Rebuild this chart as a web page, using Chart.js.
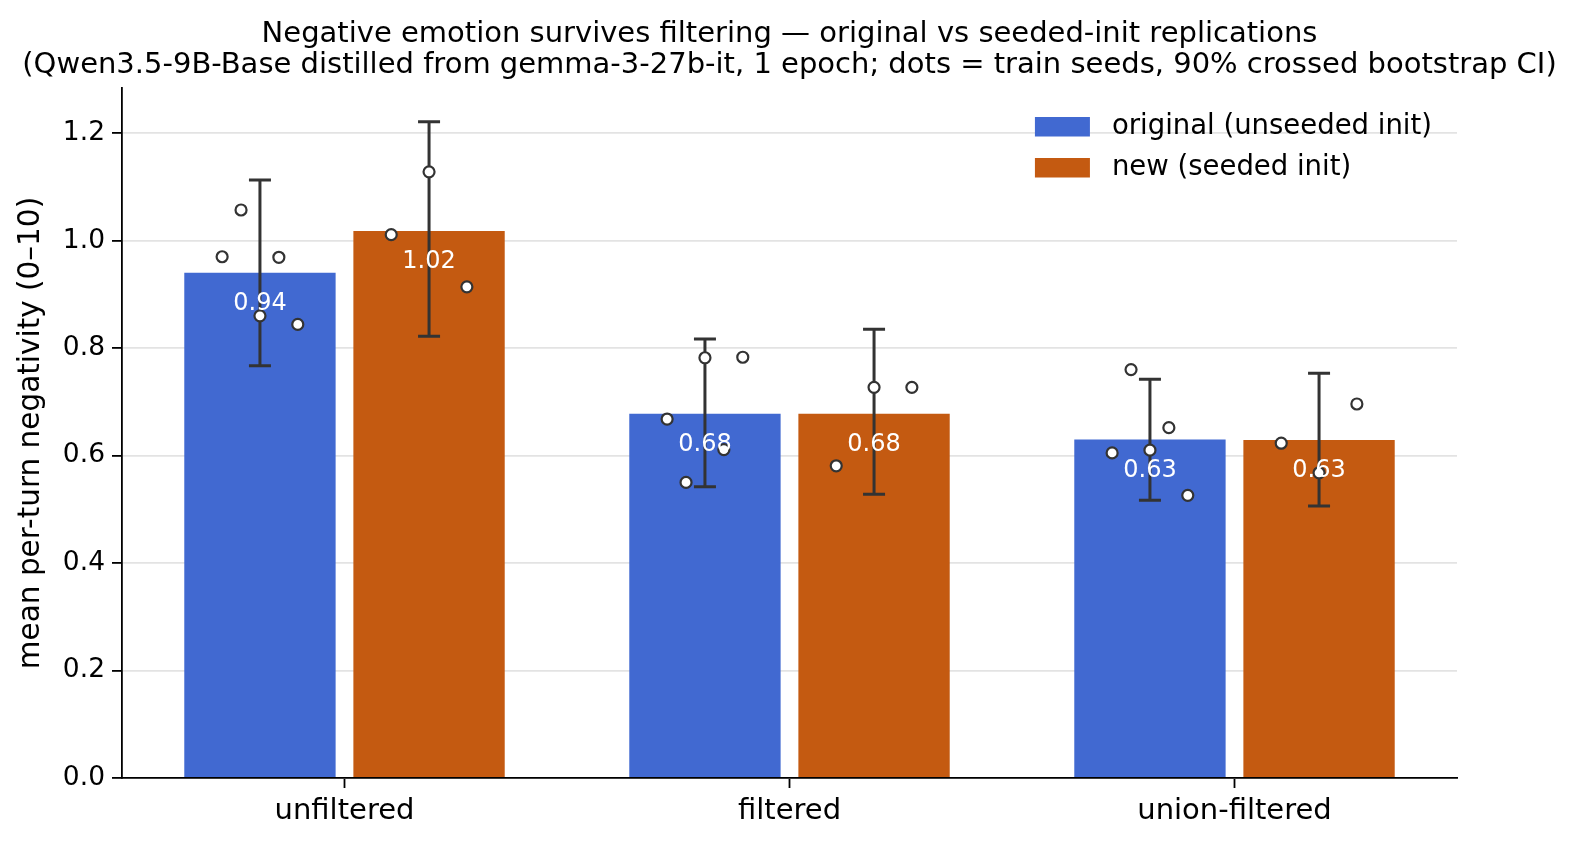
<!DOCTYPE html>
<html>
<head>
<meta charset="utf-8">
<script src="https://cdn.jsdelivr.net/npm/chart.js@4.4.1/dist/chart.umd.min.js"></script>
<style>
  html, body { margin: 0; padding: 0; background: #fff; overflow: hidden; }
  canvas { display: block; }
</style>
</head>
<body>
<canvas id="chart" width="1593" height="859"></canvas>
<script>
// === DADOS ===
const categories = ['unfiltered', 'filtered', 'union-filtered'];
const seriesLabels = ['original (unseeded init)', 'new (seeded init)'];
const seriesColors = ['#4169d1', '#c45a11'];

const originalMean = [0.940, 0.678, 0.630];
const newMean = [1.018, 0.678, 0.629];

const originalCiLow = [0.767, 0.542, 0.517];
const originalCiHigh = [1.113, 0.817, 0.742];
const newCiLow = [0.822, 0.528, 0.506];
const newCiHigh = [1.221, 0.835, 0.753];

// one list of train seeds per category
const originalSeeds = [
  [0.970, 1.057, 0.860, 0.969, 0.844],
  [0.668, 0.550, 0.782, 0.611, 0.783],
  [0.605, 0.760, 0.610, 0.652, 0.526]
];
const newSeeds = [
  [1.011, 1.128, 0.914],
  [0.581, 0.727, 0.727],
  [0.623, 0.568, 0.696]
];

const yTicks = [0, 0.2, 0.4, 0.6, 0.8, 1.0, 1.2];
const yMax = 1.284;

const titleLines = [
  'Negative emotion survives filtering \u2014 original vs seeded-init replications',
  '(Qwen3.5-9B-Base distilled from gemma-3-27b-it, 1 epoch; dots = train seeds, 90% crossed bootstrap CI)'
];
const yTitle = 'mean per-turn negativity (0\u201310)';

// === LAYOUT ===
const FONT = "'DejaVu Sans', sans-serif";
const CAT_PCT = 0.76;
const BAR_PCT = 0.895;
const groupOffset = CAT_PCT / 4;   // bar centre offset from category centre
const JITTER = 0.085;
const AREA = { left: 122, top: 88, right: 1457, bottom: 778 };

// === PLUGINS ===
const errorBars = {
  id: 'errorBars',
  afterDatasetDraw(chart, args) {
    const ds = chart.data.datasets[args.index];
    if (!ds.ciLow) return;
    const y = chart.scales.y;
    const ctx = chart.ctx;
    ctx.save();
    ctx.strokeStyle = '#333';
    ctx.lineWidth = 3;
    args.meta.data.forEach((bar, i) => {
      const top = y.getPixelForValue(ds.ciHigh[i]);
      const bot = y.getPixelForValue(ds.ciLow[i]);
      ctx.beginPath();
      ctx.moveTo(bar.x, top); ctx.lineTo(bar.x, bot);
      ctx.moveTo(bar.x - 11, top); ctx.lineTo(bar.x + 11, top);
      ctx.moveTo(bar.x - 11, bot); ctx.lineTo(bar.x + 11, bot);
      ctx.stroke();
    });
    ctx.restore();
  }
};

// seed dots + value labels, placed through the chart's own x/y scales
const seedsAndLabels = {
  id: 'seedsAndLabels',
  afterDatasetsDraw(chart) {
    const { ctx, scales: { x, y } } = chart;
    ctx.save();
    chart.data.datasets.forEach((ds, d) => {
      const side = d === 0 ? -1 : 1;
      ds.seeds.forEach((vals, i) => {
        const n = vals.length;
        vals.forEach((v, k) => {
          const dx = n > 1 ? -JITTER + 2 * JITTER * k / (n - 1) : 0;
          const px = x.getPixelForValue(i + side * groupOffset + dx);
          ctx.beginPath();
          ctx.arc(px, y.getPixelForValue(v), 5.5, 0, Math.PI * 2);
          ctx.fillStyle = '#fff';
          ctx.fill();
          ctx.lineWidth = 2.2;
          ctx.strokeStyle = '#333';
          ctx.stroke();
        });
      });
    });

    ctx.fillStyle = '#fff';
    ctx.font = '24px ' + FONT;
    ctx.textAlign = 'center';
    ctx.textBaseline = 'middle';
    chart.data.datasets.forEach((ds, d) => {
      chart.getDatasetMeta(d).data.forEach((bar, i) => {
        ctx.fillText(ds.data[i].toFixed(2), bar.x, y.getPixelForValue(ds.data[i] - 0.058));
      });
    });
    ctx.restore();
  }
};

const titleAndLegend = {
  id: 'titleAndLegend',
  afterDraw(chart) {
    const { ctx, chartArea } = chart;
    ctx.save();
    // title centred over the axes
    ctx.fillStyle = '#000';
    ctx.font = '29px ' + FONT;
    ctx.textAlign = 'center';
    ctx.textBaseline = 'alphabetic';
    const cx = (chartArea.left + chartArea.right) / 2;
    titleLines.forEach((t, i) => ctx.fillText(t, cx, 42 + i * 31));

    // legend inside the top right corner
    ctx.font = '27.5px ' + FONT;
    ctx.textAlign = 'left';
    ctx.textBaseline = 'middle';
    const bars = chart.data.datasets;
    const maxW = Math.max(...bars.map(ds => ctx.measureText(ds.label).width));
    const textX = chartArea.right - 25 - maxW;
    const swX = textX - 22 - 55;
    bars.forEach((ds, i) => {
      const cy = chartArea.top + 39 + i * 41;
      ctx.fillStyle = ds.backgroundColor;
      ctx.fillRect(swX, cy - 10, 55, 19.5);
      ctx.fillStyle = '#000';
      ctx.fillText(ds.label, textX, cy);
    });
    ctx.restore();
  }
};

// === GRAFICO ===
new Chart(document.getElementById('chart'), {
  type: 'bar',
  data: {
    labels: categories,
    datasets: [
      { label: seriesLabels[0], data: originalMean, backgroundColor: seriesColors[0],
        ciLow: originalCiLow, ciHigh: originalCiHigh, seeds: originalSeeds },
      { label: seriesLabels[1], data: newMean, backgroundColor: seriesColors[1],
        ciLow: newCiLow, ciHigh: newCiHigh, seeds: newSeeds }
    ]
  },
  options: {
    responsive: false,
    animation: false,
    categoryPercentage: CAT_PCT,
    barPercentage: BAR_PCT,
    borderWidth: 0,
    layout: { padding: { top: AREA.top, right: 1593 - AREA.right, left: 0, bottom: 0 } },
    plugins: { legend: { display: false }, tooltip: { enabled: false }, title: { display: false } },
    scales: {
      x: {
        offset: true,
        grid: { drawOnChartArea: false, offset: false, tickColor: '#000', tickLength: 10, tickWidth: 1.8 },
        border: { color: '#000', width: 1.8, z: 1 },
        ticks: { color: '#000', font: { family: FONT, size: 29 }, padding: 6 },
        afterFit: (s) => { s.height = 859 - AREA.bottom; }
      },
      y: {
        min: 0,
        max: yMax,
        afterBuildTicks: (s) => { s.ticks = yTicks.map(v => ({ value: v })); },
        grid: { color: '#e3e3e3', lineWidth: 1.8, tickColor: '#000', tickLength: 10, tickWidth: 1.8 },
        border: { color: '#000', width: 1.8, z: 1 },
        ticks: { color: '#000', font: { family: FONT, size: 26.5 }, padding: 7,
          callback: (v) => Number(v).toFixed(1) },
        title: { display: true, text: yTitle, color: '#000', font: { family: FONT, size: 29.5 },
          padding: { top: 14, bottom: 0 } },
        afterFit: (s) => { s.width = AREA.left; }
      }
    }
  },
  plugins: [errorBars, seedsAndLabels, titleAndLegend]
});
</script>
</body>
</html>
